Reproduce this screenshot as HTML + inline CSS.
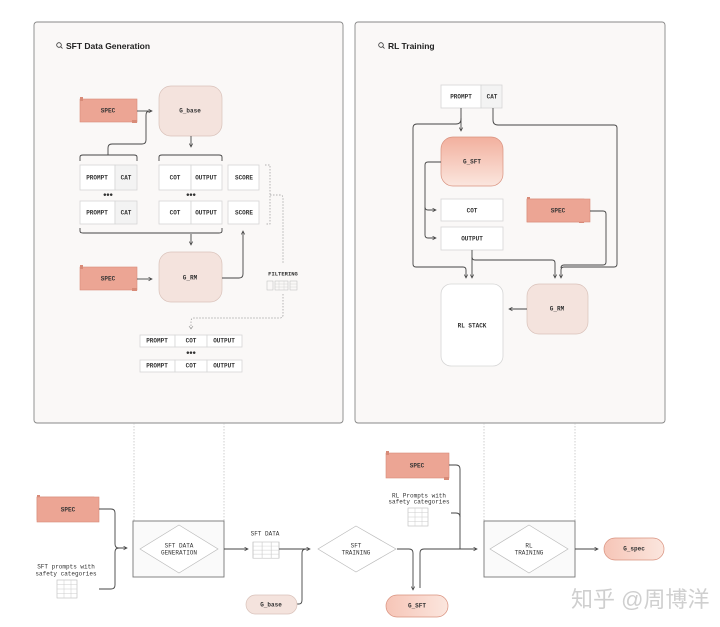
<!DOCTYPE html>
<html><head><meta charset="utf-8"><style>
html,body{margin:0;padding:0;background:#fff;}
svg{display:block;}
.m{font-family:"Liberation Mono",monospace;font-size:6px;font-weight:bold;fill:#333;text-anchor:middle;dominant-baseline:middle;}
.d{font-family:"Liberation Sans",sans-serif;font-size:9px;font-weight:bold;fill:#333;text-anchor:middle;dominant-baseline:middle;}
.t{font-family:"Liberation Sans",sans-serif;font-size:8.5px;font-weight:bold;fill:#222;}
.cell{fill:#fff;stroke:#d6d6d6;stroke-width:0.8;}
.ln{fill:none;stroke:#444;stroke-width:0.9;}
.dl{fill:none;stroke:#999;stroke-width:0.7;stroke-dasharray:1.5,1.5;}
</style></head><body>
<svg width="720" height="627" viewBox="0 0 720 627" xmlns="http://www.w3.org/2000/svg">
<defs>
<marker id="a" markerWidth="5" markerHeight="5" refX="4" refY="2.5" orient="auto"><path d="M0,0.5 L4,2.5 L0,4.5" fill="none" stroke="#444" stroke-width="0.8"/></marker>
<linearGradient id="gs" x1="0" y1="0" x2="0" y2="1"><stop offset="0" stop-color="#f2b09e"/><stop offset="1" stop-color="#fbe6de"/></linearGradient>
<linearGradient id="gh" x1="0" y1="0" x2="1" y2="0"><stop offset="0" stop-color="#f6c5b7"/><stop offset="1" stop-color="#fbe6de"/></linearGradient>
<g id="spec"><rect x="0" y="0" width="57" height="23" fill="#eca594" stroke="#d88b78" stroke-width="0.6"/><rect x="0" y="-2" width="3" height="4" fill="#d88b78"/><rect x="52" y="21" width="5" height="3" fill="#d88b78"/></g>
<g id="tbl"><rect x="0" y="0" width="20" height="18" fill="#fff" stroke="#bbb" stroke-width="0.6"/><path d="M0,4.5H20M0,9H20M0,13.5H20M7,0V18M14,0V18" stroke="#ccc" stroke-width="0.5"/></g>
</defs>

<rect x="34" y="22" width="309" height="401" rx="3" fill="#faf8f7" stroke="#888" stroke-width="0.9"/>
<rect x="355" y="22" width="310" height="401" rx="3" fill="#faf8f7" stroke="#888" stroke-width="0.9"/>
<circle cx="59" cy="45" r="2.3" fill="none" stroke="#333" stroke-width="0.8"/><path d="M60.7,46.7 L62.5,48.5" stroke="#333" stroke-width="0.8"/>
<text class="t" x="66" y="49">SFT Data Generation</text>
<circle cx="381" cy="45" r="2.3" fill="none" stroke="#333" stroke-width="0.8"/><path d="M382.7,46.7 L384.5,48.5" stroke="#333" stroke-width="0.8"/>
<text class="t" x="388" y="49">RL Training</text>

<use href="#spec" x="80" y="99"/><text class="m" x="108" y="111">SPEC</text>
<rect x="159" y="86" width="63" height="50" rx="12" fill="#f4e3dd" stroke="#d9c2ba" stroke-width="0.7"/><text class="m" x="190" y="111">G_base</text>
<path class="ln" d="M137,111 H152" marker-end="url(#a)"/>
<path class="ln" d="M108,155 V148 Q108,144 112,144 H142 Q146,144 146,140 V115 Q146,111 150,111"/>
<path class="ln" d="M191,136 V147" marker-end="url(#a)"/>
<path class="ln" d="M80,161 V157 Q80,155 83,155 H134 Q137,155 137,157 V161"/>
<path class="ln" d="M159,161 V157 Q159,155 162,155 H219 Q222,155 222,157 V161"/>
<g>
<rect class="cell" x="80" y="165" width="35" height="25"/><rect class="cell" x="115" y="165" width="22" height="25" style="fill:#f3f3f3"/>
<text class="m" x="97" y="178">PROMPT</text><text class="m" x="126" y="178">CAT</text>
<rect class="cell" x="159" y="165" width="32" height="25"/><rect class="cell" x="191" y="165" width="31" height="25"/>
<text class="m" x="175" y="178">COT</text><text class="m" x="206" y="178">OUTPUT</text>
<rect class="cell" x="228" y="165" width="31" height="25"/><text class="m" x="244" y="178">SCORE</text>
<text class="d" x="108" y="195">•••</text><text class="d" x="191" y="195">•••</text>
<rect class="cell" x="80" y="201" width="35" height="23"/><rect class="cell" x="115" y="201" width="22" height="23" style="fill:#f3f3f3"/>
<text class="m" x="97" y="213">PROMPT</text><text class="m" x="126" y="213">CAT</text>
<rect class="cell" x="159" y="201" width="32" height="23"/><rect class="cell" x="191" y="201" width="31" height="23"/>
<text class="m" x="175" y="213">COT</text><text class="m" x="206" y="213">OUTPUT</text>
<rect class="cell" x="228" y="201" width="31" height="23"/><text class="m" x="244" y="213">SCORE</text>
</g>
<path class="ln" d="M80,228 V231 Q80,233 83,233 H219 Q222,233 222,231 V228"/>
<path class="ln" d="M191,234 V245" marker-end="url(#a)"/>
<use href="#spec" x="80" y="267"/><text class="m" x="108" y="279">SPEC</text>
<path class="ln" d="M137,279 H152" marker-end="url(#a)"/>
<rect x="159" y="252" width="63" height="50" rx="12" fill="#f4e3dd" stroke="#d9c2ba" stroke-width="0.7"/><text class="m" x="190" y="278">G_RM</text>
<path class="ln" d="M222,278 H239 Q243,278 243,274 V231" marker-end="url(#a)"/>
<path class="dl" d="M265,165 H270 V224 H265"/>
<path class="dl" d="M270,195 H280 Q283,195 283,198 V263"/>
<text class="m" x="283" y="274" style="font-size:5.5px">FILTERING</text>
<rect x="267" y="281" width="6" height="9" fill="none" stroke="#bbb" stroke-width="0.5"/>
<rect x="275" y="281" width="13" height="9" fill="none" stroke="#bbb" stroke-width="0.5"/><path d="M275,284H288M275,287H288M279,281V290M284,281V290" stroke="#ccc" stroke-width="0.4"/>
<rect x="290" y="281" width="7" height="9" fill="none" stroke="#bbb" stroke-width="0.5"/><path d="M290,284H297M290,287H297" stroke="#ccc" stroke-width="0.4"/>
<path class="dl" d="M283,294 V315 Q283,318 280,318 H194 Q191,318 191,321 V328"/>
<path d="M189,326 L191,329 L193,326" fill="none" stroke="#888" stroke-width="0.6"/>
<rect class="cell" x="140" y="335" width="35" height="12"/><rect class="cell" x="175" y="335" width="32" height="12"/><rect class="cell" x="207" y="335" width="35" height="12"/>
<text class="m" x="157" y="341">PROMPT</text><text class="m" x="191" y="341">COT</text><text class="m" x="224" y="341">OUTPUT</text>
<text class="d" x="191" y="353">•••</text>
<rect class="cell" x="140" y="360" width="35" height="12"/><rect class="cell" x="175" y="360" width="32" height="12"/><rect class="cell" x="207" y="360" width="35" height="12"/>
<text class="m" x="157" y="366">PROMPT</text><text class="m" x="191" y="366">COT</text><text class="m" x="224" y="366">OUTPUT</text>

<rect class="cell" x="441" y="85" width="40" height="23"/><rect class="cell" x="481" y="85" width="21" height="23" style="fill:#f3f3f3"/>
<text class="m" x="461" y="97">PROMPT</text><text class="m" x="492" y="97">CAT</text>
<path class="ln" d="M461,108 V119 Q461,124 456,124 H417 Q413,124 413,128 V264 Q413,267 416,267 H463 Q466,267 466,270 V278" marker-end="url(#a)"/>
<path class="ln" d="M461,118 V131" marker-end="url(#a)"/>
<path class="ln" d="M493,108 V120 Q493,125 498,125 H614 Q617,125 617,128 V264 Q617,267 614,267 H564 Q561,267 561,270 V278" marker-end="url(#a)"/>
<rect x="441" y="137" width="62" height="49" rx="12" fill="url(#gs)" stroke="#d9927f" stroke-width="0.7"/><text class="m" x="472" y="162">G_SFT</text>
<path class="ln" d="M441,162 H428 Q425,162 425,165 V235 Q425,238 428,238 H436" marker-end="url(#a)"/>
<path class="ln" d="M425,207 Q425,210 428,210 H436" marker-end="url(#a)"/>
<rect class="cell" x="441" y="199" width="62" height="22"/><text class="m" x="472" y="211">COT</text>
<rect class="cell" x="441" y="227" width="62" height="23"/><text class="m" x="472" y="239">OUTPUT</text>
<use href="#spec" x="527" y="199"/><rect x="527" y="199" width="63" height="23" fill="#eca594" stroke="#d88b78" stroke-width="0.6"/><text class="m" x="558" y="211">SPEC</text>
<path class="ln" d="M472,250 V278" marker-end="url(#a)"/>
<path class="ln" d="M472,257 Q472,260 475,260 H552 Q555,260 555,263 V278" marker-end="url(#a)"/>
<path class="ln" d="M590,211 H603 Q606,211 606,214 V262 Q606,265 603,265 H564 Q561,265 561,268"/>
<rect x="441" y="284" width="62" height="82" rx="10" fill="#fff" stroke="#d6d6d6" stroke-width="0.8"/><text class="m" x="472" y="326">RL STACK</text>
<rect x="527" y="284" width="61" height="50" rx="12" fill="#f4e3dd" stroke="#d9c2ba" stroke-width="0.7"/><text class="m" x="557" y="309">G_RM</text>
<path class="ln" d="M527,309 H509" marker-end="url(#a)"/>

<path class="dl" d="M134,423 V521 M224,423 V521 M484,423 V521 M575,423 V521" style="stroke:#bbb"/>
<use href="#spec" x="37" y="497"/><rect x="37" y="497" width="62" height="25" fill="#eca594" stroke="#d88b78" stroke-width="0.6"/><text class="m" x="68" y="510">SPEC</text>
<text class="m" x="66" y="567" style="font-weight:normal;font-size:6px">SFT prompts with</text>
<text class="m" x="66" y="574" style="font-weight:normal;font-size:6px">safety categories</text>
<use href="#tbl" x="57" y="580"/>
<path class="ln" d="M99,509 H111 Q115,509 115,513 V544 Q115,548 119,548 H127" marker-end="url(#a)"/>
<path class="ln" d="M99,589 H111 Q115,589 115,585 V552 Q115,548 119,548"/>
<rect x="133" y="521" width="91" height="56" fill="#fafafa" stroke="#777" stroke-width="0.9"/>
<path d="M179,525 L218,549 L179,573 L140,549 Z" fill="#fff" stroke="#bbb" stroke-width="0.7"/>
<text class="m" x="179" y="546" style="font-weight:normal">SFT DATA</text><text class="m" x="179" y="553" style="font-weight:normal">GENERATION</text>
<path class="ln" d="M224,549 H248" marker-end="url(#a)"/>
<text class="m" x="265" y="534" style="font-weight:normal">SFT DATA</text>
<g transform="translate(253,542) scale(1.3,0.9)"><use href="#tbl"/></g>
<path class="ln" d="M279,549 H310" marker-end="url(#a)"/>
<path class="ln" d="M297,604 H299 Q302,604 302,600 V553 Q302,549 306,549"/>
<rect x="246" y="595" width="51" height="19" rx="9.5" fill="#f4e3dd" stroke="#d9c2ba" stroke-width="0.7"/><text class="m" x="271" y="605">G_base</text>
<path d="M356,526 L396,549 L356,572 L318,549 Z" fill="#fff" stroke="#bbb" stroke-width="0.7"/>
<text class="m" x="356" y="546" style="font-weight:normal">SFT</text><text class="m" x="356" y="553" style="font-weight:normal">TRAINING</text>
<path class="ln" d="M397,549 H409 Q413,549 413,553 V590" marker-end="url(#a)"/>
<path class="ln" d="M420,588 V553 Q420,549 424,549 H477" marker-end="url(#a)"/>
<rect x="386" y="595" width="62" height="22" rx="11" fill="url(#gh)" stroke="#d9927f" stroke-width="0.7"/><text class="m" x="417" y="606">G_SFT</text>
<rect x="386" y="453" width="63" height="25" fill="#eca594" stroke="#d88b78" stroke-width="0.6"/><rect x="386" y="451" width="3" height="4" fill="#d88b78"/><rect x="444" y="477" width="5" height="3" fill="#d88b78"/><text class="m" x="417" y="466">SPEC</text>
<path class="ln" d="M449,465 H456 Q460,465 460,469 V549"/>
<text class="m" x="419" y="496" style="font-weight:normal">RL Prompts with</text>
<text class="m" x="419" y="502" style="font-weight:normal">safety categories</text>
<use href="#tbl" x="408" y="508"/>
<path class="ln" d="M451,513 H456 Q460,513 460,517"/>
<rect x="484" y="521" width="91" height="56" fill="#fafafa" stroke="#777" stroke-width="0.9"/>
<path d="M529,525 L568,549 L529,573 L490,549 Z" fill="#fff" stroke="#bbb" stroke-width="0.7"/>
<text class="m" x="529" y="546" style="font-weight:normal">RL</text><text class="m" x="529" y="553" style="font-weight:normal">TRAINING</text>
<path class="ln" d="M575,549 H598" marker-end="url(#a)"/>
<rect x="604" y="538" width="60" height="22" rx="11" fill="url(#gh)" stroke="#d9927f" stroke-width="0.7"/><text class="m" x="634" y="549">G_spec</text>

<text x="571" y="607" style="font-family:'Liberation Sans','Noto Sans CJK SC',sans-serif;font-size:22px;fill:#cfcfcf">知乎 @周博洋</text>
</svg>
</body></html>
